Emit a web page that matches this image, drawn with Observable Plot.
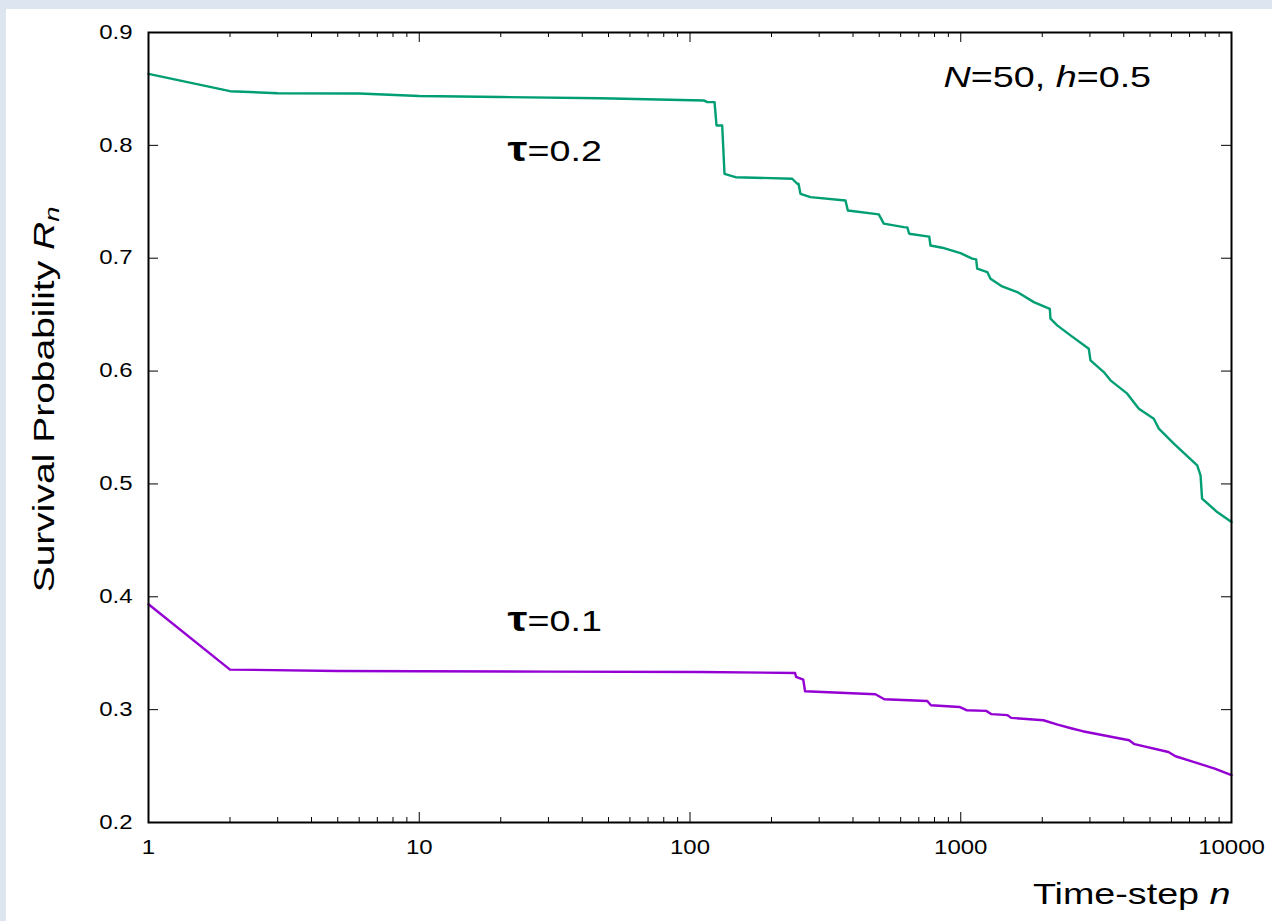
<!DOCTYPE html>
<html><head><meta charset="utf-8">
<script src="https://cdn.jsdelivr.net/npm/d3@7"></script>
<script src="https://cdn.jsdelivr.net/npm/@observablehq/plot@0.6"></script>
<style>
html,body{margin:0;padding:0;}
body{width:1272px;height:921px;background:#dde6f0;position:relative;overflow:hidden;}
#chart{position:absolute;left:6px;top:9px;width:1266px;height:912px;background:#fff;}
</style></head><body><div id="chart"></div>
<script>
// ---- data ----
const tau02N = [1, 2, 3, 6, 10, 20, 46.7, 112.5, 115.8, 123.2, 125.3, 131.5, 134.1, 147.3, 238.5, 248.9, 251.6, 255.9, 278.6, 375.2, 382.8, 498, 519.8, 616, 635, 645, 752, 765, 773, 854, 998, 1102, 1140, 1150, 1253, 1288, 1422, 1617, 1862, 2133, 2145, 2271, 2543, 2971, 3014, 3375, 3573, 4120, 4548, 5164, 5389, 6123, 7469, 7686, 7786, 8852, 10000];
const tau02R = [0.8634, 0.848, 0.8462, 0.846, 0.8437, 0.8428, 0.8418, 0.8398, 0.8383, 0.8383, 0.8176, 0.8176, 0.7748, 0.7718, 0.7704, 0.766, 0.766, 0.7571, 0.7541, 0.7512, 0.7423, 0.7388, 0.7306, 0.7276, 0.7272, 0.7217, 0.7193, 0.719, 0.7113, 0.7093, 0.7045, 0.6996, 0.699, 0.6907, 0.6877, 0.6818, 0.675, 0.67, 0.6611, 0.6552, 0.6464, 0.6405, 0.6316, 0.6198, 0.6095, 0.5991, 0.5918, 0.58, 0.5667, 0.5578, 0.549, 0.5357, 0.5165, 0.5076, 0.487, 0.4751, 0.4663];
const tau01N = [1, 2, 5, 10, 30, 109.4, 244.4, 246.5, 262, 266, 484, 522, 752, 776, 989, 1050, 1242, 1299, 1489, 1536, 2020, 2280, 2574, 2818, 4187, 4383, 5848, 6212, 7233, 8670, 10000];
const tau01R = [0.3934, 0.3355, 0.3343, 0.334, 0.3337, 0.3334, 0.3325, 0.329, 0.3267, 0.3163, 0.3136, 0.3092, 0.3077, 0.3039, 0.3024, 0.2995, 0.2989, 0.296, 0.2951, 0.2927, 0.2906, 0.2868, 0.2833, 0.2809, 0.2729, 0.2694, 0.2625, 0.2587, 0.2537, 0.2478, 0.2419];
const yTicks = [0.2, 0.3, 0.4, 0.5, 0.6, 0.7, 0.8, 0.9];
const xMajor = [1, 10, 100, 1000, 10000];
const xMinor = [2,3,4,5,6,7,8,9, 20,30,40,50,60,70,80,90, 200,300,400,500,600,700,800,900, 2000,3000,4000,5000,6000,7000,8000,9000];
const seriesLabels = ["τ=0.2", "τ=0.1"];
const paramLabel = "N=50, h=0.5";
const xTitle = "Time-step n";
const yTitle = "Survival Probability Rn";

const green = tau02N.map((n, i) => ({n, R: tau02R[i]}));
const purple = tau01N.map((n, i) => ({n, R: tau01R[i]}));

// ---- layout ----
const W = 1266, H = 912;
const mL = 142, mR = 41, mT = 23, mB = 99;
const fw = W - mL - mR, fh = H - mT - mB;
const FONT = "'Liberation Sans', Arial, Helvetica, sans-serif";

const chart = Plot.plot({
  width: W, height: H,
  marginLeft: mL, marginRight: mR, marginTop: mT, marginBottom: mB,
  style: {background: "white", fontFamily: FONT, color: "black", overflow: "visible"},
  x: {type: "log", domain: [1, 10000], label: null},
  y: {domain: [0.2, 0.9], label: null},
  marks: [
    Plot.ruleY(yTicks, {insetRight: fw - 10, stroke: "black", strokeWidth: 1}),
    Plot.ruleY(yTicks, {insetLeft: fw - 10, stroke: "black", strokeWidth: 1}),
    Plot.ruleX(xMajor, {insetTop: fh - 10, stroke: "black", strokeWidth: 1}),
    Plot.ruleX(xMajor, {insetBottom: fh - 10, stroke: "black", strokeWidth: 1}),
    Plot.ruleX(xMinor, {insetTop: fh - 5, stroke: "black", strokeWidth: 1}),
    Plot.ruleX(xMinor, {insetBottom: fh - 5, stroke: "black", strokeWidth: 1}),
    Plot.axisY({ticks: yTicks, tickSize: 0, tickPadding: 16, tickFormat: d3.format(".1f"), fontSize: 19.5, label: null}),
    Plot.axisX({ticks: xMajor, tickSize: 0, tickPadding: 18, tickFormat: d => String(d), fontSize: 19.5, label: null}),
    Plot.line(green, {x: "n", y: "R", stroke: "#009e73", strokeWidth: 2.4}),
    Plot.line(purple, {x: "n", y: "R", stroke: "#9400d3", strokeWidth: 2.4}),
    Plot.frame({stroke: "black", strokeWidth: 2}),
    Plot.text([seriesLabels[0]], {x: 21.2, y: 0.786, text: d => d, textAnchor: "start", lineAnchor: "bottom", fontSize: 29, fill: "black"}),
    Plot.text([seriesLabels[1]], {x: 21.2, y: 0.3697, text: d => d, textAnchor: "start", lineAnchor: "bottom", fontSize: 29, fill: "black"}),
    Plot.text([paramLabel], {x: 864, y: 0.8516, text: d => d, textAnchor: "start", lineAnchor: "bottom", fontSize: 29, fill: "black"}),
    Plot.text([xTitle], {frameAnchor: "bottom-right", text: d => d, textAnchor: "end", lineAnchor: "bottom", dx: -1, dy: 81, fontSize: 29, fill: "black"}),
    Plot.text([yTitle], {frameAnchor: "left", text: d => d, textAnchor: "middle", lineAnchor: "bottom", rotate: -90, dx: -95, dy: -28, fontSize: 30, fill: "black"})
  ]
});
document.getElementById("chart").appendChild(chart);

// rich text (italics, subscript, larger tau)
const svgNS = "http://www.w3.org/2000/svg";
function setRich(t, parts) {
  while (t.firstChild) t.removeChild(t.firstChild);
  for (const p of parts) {
    const s = document.createElementNS(svgNS, "tspan");
    s.textContent = p.t;
    if (p.i) s.setAttribute("font-style", "italic");
    if (p.big) { s.setAttribute("font-size", "1.18em"); s.setAttribute("font-weight", "bold"); }
    if (p.sub) { s.setAttribute("font-size", "0.7em"); s.setAttribute("dy", "0.25em"); }
    t.appendChild(s);
  }
}
chart.querySelectorAll("text").forEach(t => {
  const c = t.textContent;
  if (c === yTitle) setRich(t, [{t: "Survival Probability "}, {t: "R", i: true}, {t: "n", i: true, sub: true}]);
  else if (c === xTitle) setRich(t, [{t: "Time-step "}, {t: "n", i: true}]);
  else if (c === paramLabel) setRich(t, [{t: "N", i: true}, {t: "=50, "}, {t: "h", i: true}, {t: "=0.5"}]);
  else if (c === seriesLabels[0] || c === seriesLabels[1]) setRich(t, [{t: "τ", big: true}, {t: c.slice(1)}]);
});
// horizontal glyph stretch as in the reference image
chart.querySelectorAll("text").forEach(t => {
  const fs = parseFloat(getComputedStyle(t).fontSize);
  const s = fs > 24 ? 1.3 : 1.23;
  const x = parseFloat(t.getAttribute("x") || 0);
  const tr = t.getAttribute("transform") || "";
  t.setAttribute("transform", `${tr} translate(${x},0) scale(${s},1) translate(${-x},0)`);
});
</script></body></html>
